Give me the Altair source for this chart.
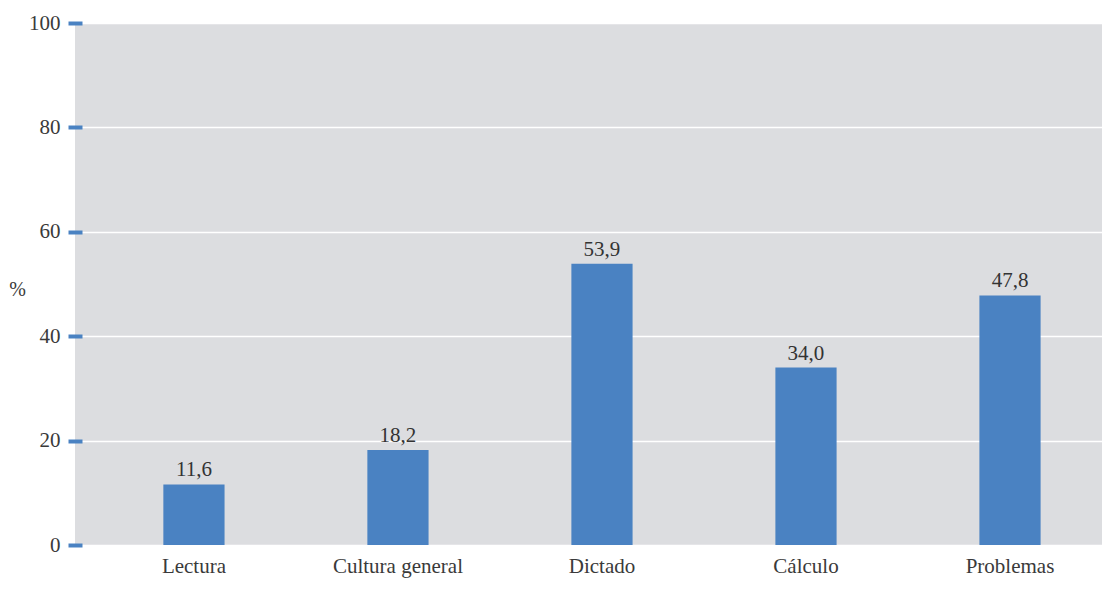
import altair as alt
import pandas as pd

categories = ["Lectura", "Cultura general", "Dictado", "Cálculo", "Problemas"]
values = [11.6, 18.2, 53.9, 34.0, 47.8]
labels = ["11,6", "18,2", "53,9", "34,0", "47,8"]

df = pd.DataFrame({"cat": categories, "val": values, "lab": labels})

FONT = "Liberation Serif"
BAR = "#4a82c2"

x = alt.X("cat:N", sort=categories, title=None,
          scale=alt.Scale(paddingInner=0.7, paddingOuter=0.367, align=0.59),
          axis=alt.Axis(labelAngle=0, domain=False, ticks=False, labelPadding=10,
                        labelFontSize=21, labelFont=FONT, labelColor="#3a3a3a"))
y = alt.Y("val:Q", title="%",
          scale=alt.Scale(domain=[0, 100], nice=False),
          axis=alt.Axis(values=[0, 20, 40, 60, 80, 100], domain=False,
                        tickColor=BAR, tickWidth=4, tickSize=14, offset=-7,
                        labelPadding=8, labelFontSize=21, labelFont=FONT,
                        labelColor="#3a3a3a", gridColor="white", gridWidth=1.5,
                        titleAngle=0, titleX=-65, titleY=266, titleAlign="center",
                        titleBaseline="middle", titleFont=FONT, titleFontSize=20,
                        titleFontWeight="normal", titleColor="#3a3a3a"))

bars = alt.Chart(df).mark_bar(color=BAR).encode(x=x, y=y)
text = alt.Chart(df).mark_text(baseline="bottom", dy=-4, font=FONT, fontSize=21,
                               color="#333333").encode(x=x, y=y, text="lab:N")

chart = (bars + text).properties(
    width=1027, height=522,
    autosize=alt.AutoSizeParams(type="none"),
    padding={"left": 67, "top": 15, "right": 0, "bottom": 36},
).configure(background="white").configure_view(fill="#dcdde0", stroke=None)

chart.save("out.html", embed_options={"renderer": "svg", "actions": False})
